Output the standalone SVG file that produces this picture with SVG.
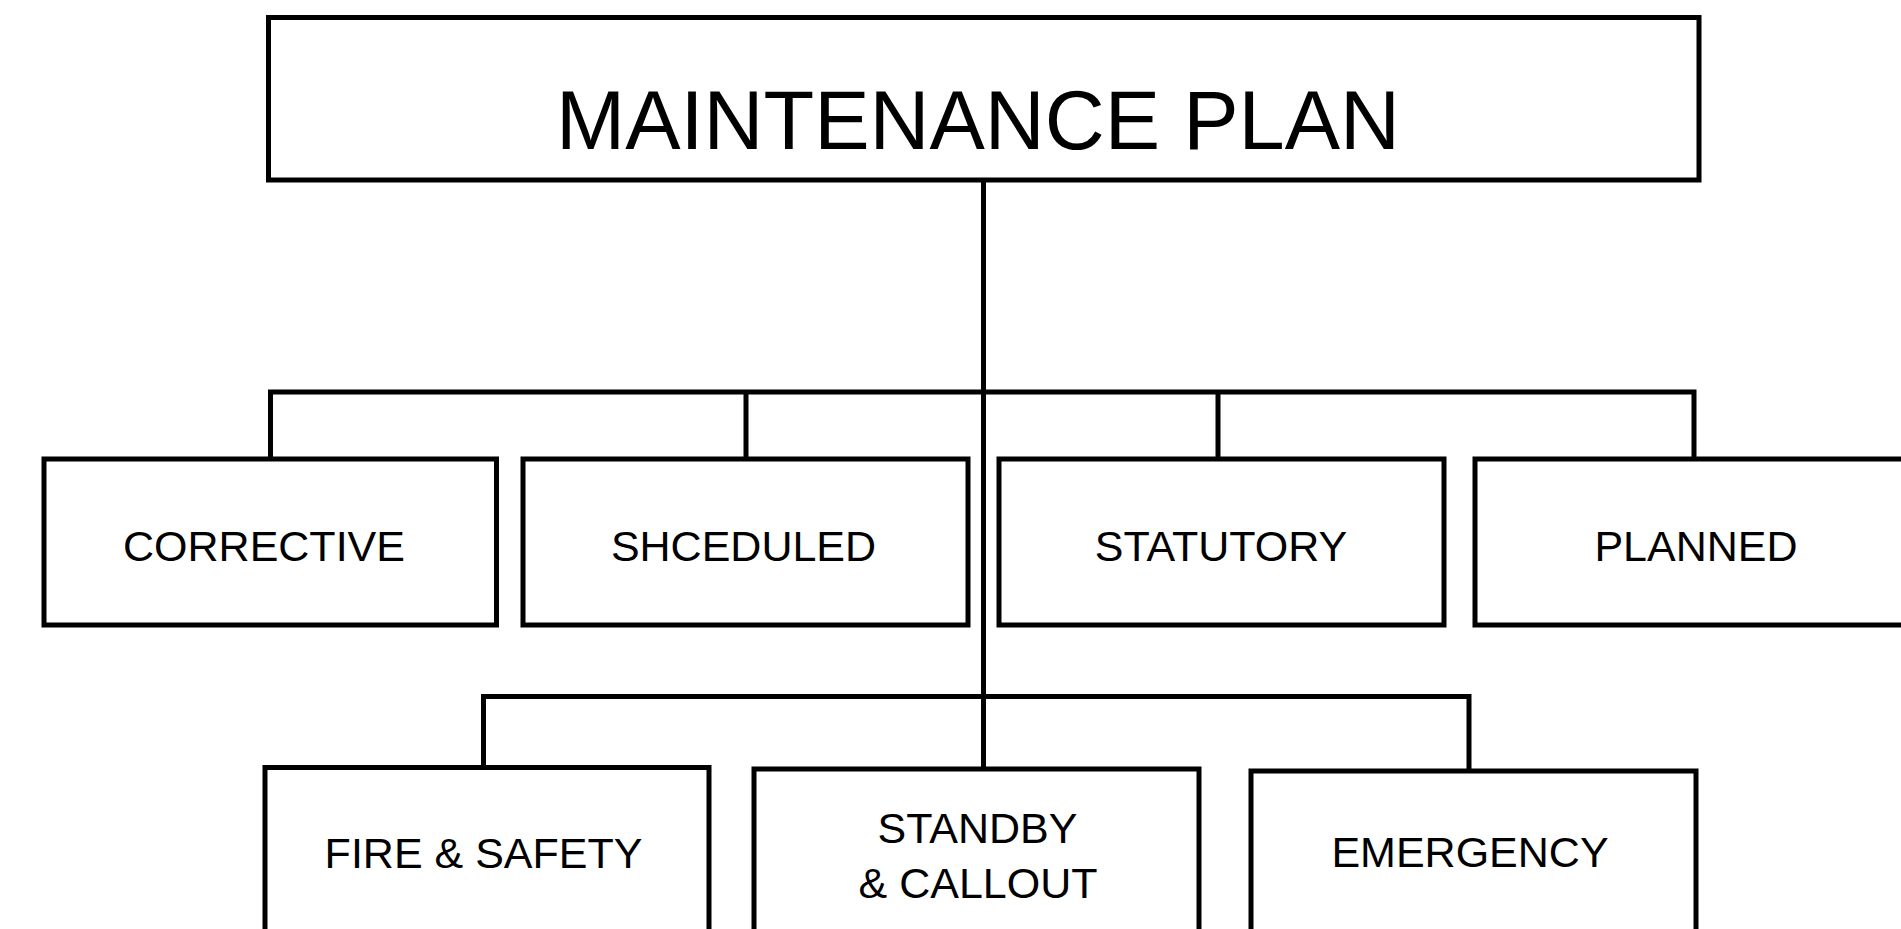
<svg xmlns="http://www.w3.org/2000/svg" width="1901" height="929" viewBox="0 0 1901 929">
<style>
.box{fill:#fff;stroke:#000;stroke-width:5}
.ln{fill:none;stroke:#000;stroke-width:5}
text{font-family:"Liberation Sans",Arial,Helvetica,sans-serif;fill:#000;text-anchor:middle}
.t{font-size:43px}
.title{font-size:83px}
</style>
<rect width="1901" height="929" fill="#fff"/>
<g id="connectors">
<path class="ln" d="M983.5 180 V769"/>
<path class="ln" d="M270.5 459 V392 H1694 V459"/>
<path class="ln" d="M746 392 V459"/>
<path class="ln" d="M1218 392 V459"/>
<path class="ln" d="M483.5 767.5 V696.5 H1469 V771"/>
</g>
<g id="maintenance-plan">
<rect class="box" x="268.5" y="17.5" width="1430.5" height="162.5"/>
<text class="title" x="978" y="148.5">MAINTENANCE PLAN</text>
</g>
<g id="corrective">
<rect class="box" x="44" y="459" width="452.5" height="166"/>
<text class="t" x="264" y="561">CORRECTIVE</text>
</g>
<g id="scheduled">
<rect class="box" x="523" y="459" width="445" height="166"/>
<text class="t" x="743.5" y="561">SHCEDULED</text>
</g>
<g id="statutory">
<rect class="box" x="999" y="459" width="445" height="166"/>
<text class="t" x="1221" y="561">STATUTORY</text>
</g>
<g id="planned">
<rect class="box" x="1475" y="459" width="445" height="166"/>
<text class="t" x="1696" y="561">PLANNED</text>
</g>
<g id="fire-safety">
<rect class="box" x="265" y="767.5" width="444" height="170"/>
<text class="t" x="483.5" y="868.3">FIRE &amp; SAFETY</text>
</g>
<g id="standby-callout">
<rect class="box" x="754" y="769" width="445" height="170"/>
<text class="t" x="977.5" y="843.3">STANDBY</text>
<text class="t" x="978" y="898.3">&amp; CALLOUT</text>
</g>
<g id="emergency">
<rect class="box" x="1251" y="771" width="445" height="170"/>
<text class="t" x="1470" y="866.7">EMERGENCY</text>
</g>
</svg>
